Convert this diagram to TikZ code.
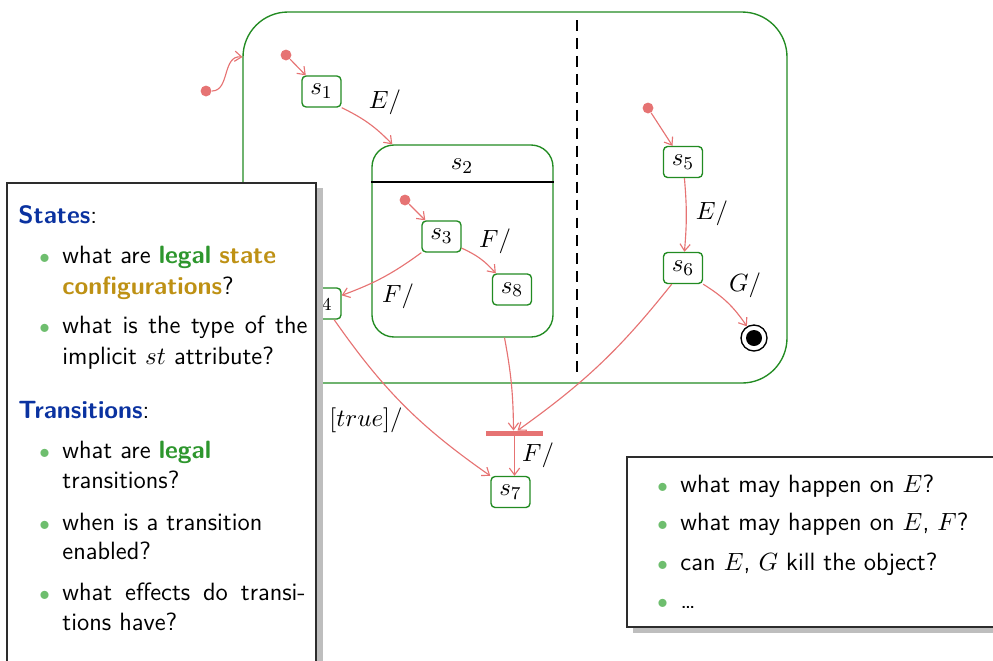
\documentclass[tikz,border=0pt]{standalone}
\usepackage{fontspec}
\usetikzlibrary{arrows.meta,calc}
\definecolor{stgreen}{RGB}{34,139,34}
\definecolor{lgreen}{RGB}{45,150,45}
\definecolor{gold}{RGB}{190,145,20}
\definecolor{stblue}{RGB}{10,50,160}
\definecolor{bulgreen}{RGB}{110,190,110}
\definecolor{trred}{RGB}{230,115,115}
\definecolor{shadowgray}{RGB}{190,190,190}
\definecolor{boxborder}{RGB}{45,45,45}
\newcommand\itm{\makebox[0pt][r]{\textcolor{bulgreen}{\small$\bullet$}\hspace{5.5pt}}}
\begin{document}
\begin{tikzpicture}[x=0.44pt,y=-0.44pt,font=\fontsize{11}{13.6}\selectfont,
  state/.style={draw=stgreen,line width=0.6pt,rounded corners=1.8pt,fill=white,
    minimum width=17.16pt,minimum height=13.64pt,inner sep=0pt},
  tr/.style={draw=trred,line width=0.5pt,-{Straight Barb[length=3pt,width=4.5pt]}},
  initdot/.style={circle,fill=trred,minimum size=4.8pt,inner sep=0pt},
  lbl/.style={inner sep=0pt},
  txt/.style={anchor=base west,inner sep=0pt,font=\fontsize{11}{13.6}\selectfont\sffamily},
  panel/.style={draw=boxborder,line width=0.7pt,fill=white},
  shadow/.style={fill=shadowgray}]
\useasboundingbox (0,0) rectangle (993,660);

% outer state
\node[draw=stgreen,line width=0.6pt,rounded corners=19.8pt,minimum width=239.36pt,
  minimum height=163.24pt,inner sep=0pt] (outer) at (515,197.5) {};
\draw[dashed,dash pattern=on 4.8pt off 3.1pt,line width=0.6pt] (577,20) coordinate (dtop) -- (577,376) coordinate (dbot);

% s2 composite
\node[draw=stgreen,line width=0.6pt,rounded corners=9.68pt,minimum width=79.64pt,
  minimum height=84.48pt,inner sep=0pt] (s2) at (462.5,241) {};
\draw[line width=1pt] ($(s2.north west)+(0,38)$) coordinate (h1) -- ($(s2.north east)+(0,38)$) coordinate (h2);
\node[lbl] (s2l) at (462,166) {$s_2$};

% simple states
\node[state] (s1) at (321.5,91.5) {$s_1$};
\node[state] (s3) at (441.5,236.5) {$s_3$};
\node[state] (s8) at (512,289.5) {$s_8$};
\node[state] (s4) at (321.5,303.5) {$s_4$};
\node[state] (s5) at (683,162) {$s_5$};
\node[state] (s6) at (683,268) {$s_6$};
\node[state] (s7) at (510.5,492) {$s_7$};

% initial dots
\node[initdot] (d0) at (206,91) {};
\node[initdot] (d1) at (286,55) {};
\node[initdot] (d2) at (405,200) {};
\node[initdot] (d3) at (648,108) {};

% final state
\node[circle,draw=black,line width=0.6pt,minimum size=11.44pt,inner sep=0pt] (fin) at (754,338) {};
\node[circle,fill=black,minimum size=7.04pt,inner sep=0pt] (fini) at (fin) {};

% fork bar
\node[fill=trred,minimum width=25.08pt,minimum height=2.2pt,inner sep=0pt] (fork) at (514.5,433.5) {};

% transitions
\coordinate (oin) at (242.5,57);
\draw[tr] (d0) .. controls (230,91) and (222,55) .. (oin);
\draw[tr] (d1) -- (s1);
\draw[tr] (s1.south east) to[bend left=10] ($(s2.north west)+(21,0)$);
\node[lbl] (lE1) at (385,102) {$E/$};
\draw[tr] (d2) -- (s3);
\draw[tr] (s3.-30) to[bend left=12] (s8.135);
\node[lbl] (lF1) at (495,241) {$F/$};
\draw[tr] (s3.south west) to[bend left=8] (s4.22);
\node[lbl] (lF2) at (398,296) {$F/$};
\draw[tr] (s4.-52) to[bend right=10] (s7.north west);
\node[lbl] (lT) at (366,420) {$[true]/$};
\draw[tr] ($(s2.south)+(42,0)$) to[bend left=5] ($(fork.north)+(-1,0)$);
\draw[tr] (s6.-125) to[bend left=8] ($(fork.north)+(3,0)$);
\draw[tr] (fork.south) -- (fork.south |- s7.north);
\node[lbl] (lF3) at (538,455) {$F/$};
\draw[tr] (d3) -- (s5);
\draw[tr] (s5) to[bend left=5] (s6);
\node[lbl] (lE2) at (712,213) {$E/$};
\draw[tr] (s6.south east) to[bend left=12] (fin);
\node[lbl] (lG) at (745,285) {$G/$};

% left panel
\fill[shadow] (13,188) rectangle (323,700);
\draw[panel] (7,183) rectangle (316,700);
\node[txt] (t1) at (18,223) {\textcolor{stblue}{\textbf{States}}:};
\node[txt] (t2) at (62,263) {\itm what are \textcolor{lgreen}{\textbf{legal}} \textcolor{gold}{\textbf{state}}};
\node[txt] (t3) at (62,294) {\textcolor{gold}{\textbf{configurations}}?};
\node[txt] (t4) at (62,333) {\itm \makebox[107.8pt][s]{what is the type of the}};
\node[txt] (t5) at (62,364) {implicit $st$ attribute?};
\node[txt] (t6) at (18,418) {\textcolor{stblue}{\textbf{Transitions}}:};
\node[txt] (t7) at (62,458) {\itm what are \textcolor{lgreen}{\textbf{legal}}};
\node[txt] (t8) at (62,488) {transitions?};
\node[txt] (t9) at (62,530) {\itm when is a transition};
\node[txt] (t10) at (62,559) {enabled?};
\node[txt] (t11) at (62,600) {\itm \makebox[107pt][s]{what effects do transi-}};
\node[txt] (t12) at (62,630) {tions have?};

% right panel
\fill[shadow] (633,463) rectangle (1000,633);
\draw[panel] (627,457) rectangle (1000,627);
\node[txt] (r1) at (680,492) {\itm what may happen on $E$?};
\node[txt] (r2) at (680,530) {\itm what may happen on $E$, $F$?};
\node[txt] (r3) at (680,570) {\itm can $E$, $G$ kill the object?};
\node[txt] (r4) at (680,608) {\itm \dots};
\end{tikzpicture}
\end{document}
